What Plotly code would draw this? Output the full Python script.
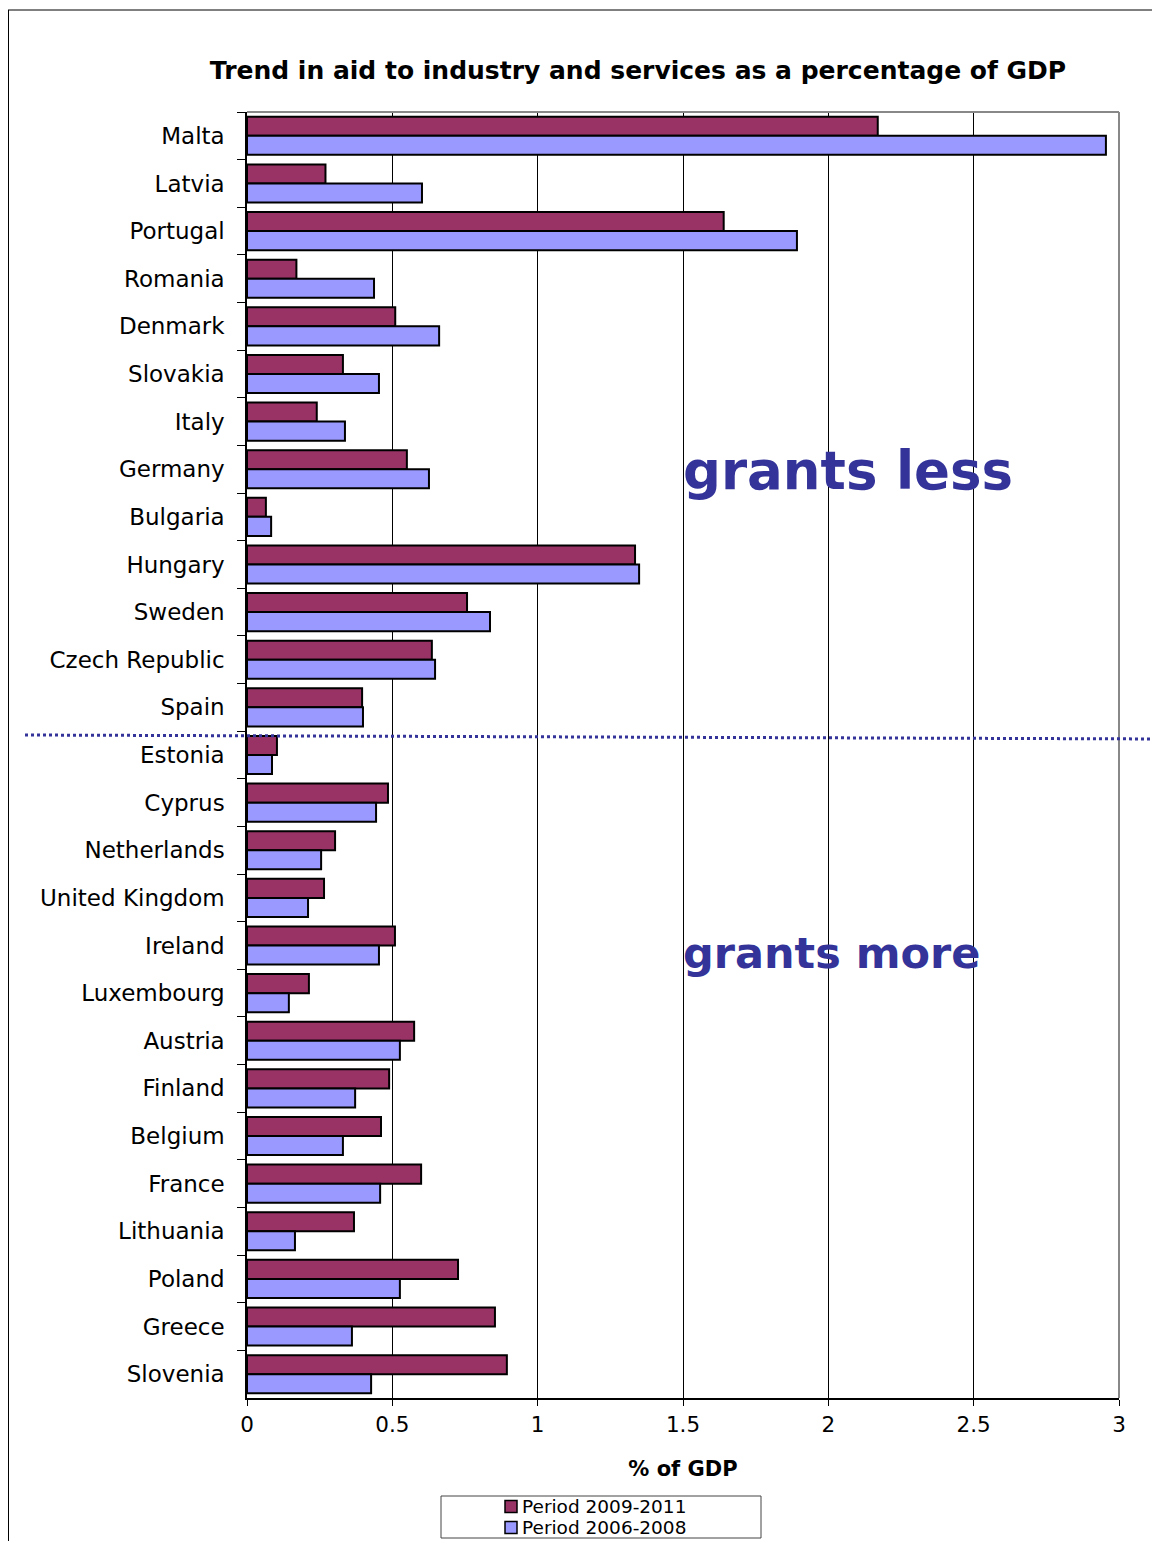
import plotly.graph_objects as go

countries = ["Malta", "Latvia", "Portugal", "Romania", "Denmark", "Slovakia", "Italy",
             "Germany", "Bulgaria", "Hungary", "Sweden", "Czech Republic", "Spain",
             "Estonia", "Cyprus", "Netherlands", "United Kingdom", "Ireland", "Luxembourg",
             "Austria", "Finland", "Belgium", "France", "Lithuania", "Poland", "Greece", "Slovenia"]
period_2009_2011 = [2.17, 0.27, 1.64, 0.17, 0.51, 0.33, 0.24, 0.55, 0.065, 1.335, 0.757, 0.636, 0.396,
                    0.103, 0.485, 0.303, 0.265, 0.509, 0.213, 0.575, 0.489, 0.461, 0.599, 0.368,
                    0.726, 0.853, 0.894]
period_2006_2008 = [2.955, 0.602, 1.892, 0.437, 0.661, 0.454, 0.337, 0.626, 0.083, 1.349, 0.836, 0.647, 0.399,
                    0.086, 0.444, 0.255, 0.21, 0.454, 0.144, 0.526, 0.372, 0.33, 0.458, 0.165,
                    0.526, 0.361, 0.427]
series_names = ["Period 2009-2011", "Period 2006-2008"]
series_colors = ["#993366", "#9999FF"]
x_ticks = [0, 0.5, 1, 1.5, 2, 2.5, 3]
x_tick_labels = ["0", "0.5", "1", "1.5", "2", "2.5", "3"]

FONT = "DejaVu Sans, Liberation Sans, Arial, sans-serif"

fig = go.Figure()
for name, vals, col in zip(series_names, [period_2009_2011, period_2006_2008], series_colors):
    fig.add_trace(go.Bar(y=countries, x=vals, orientation="h", name=name, showlegend=False,
                         marker=dict(color=col, line=dict(color="black", width=2))))

OFF = 8  # page body margin
W, H = 1160 - OFF, 1541 - OFF
L, R, T, B = 247 - OFF, 41, 112 - OFF, 143
pw, ph = W - L - R, H - T - B


def px(p):
    """reference screenshot x pixel -> paper x"""
    return (p - OFF - L) / pw


def py(p):
    """reference screenshot y pixel -> paper y"""
    return (H - B - (p - OFF)) / ph


fig.update_layout(
    width=W, height=H,
    margin=dict(l=L, r=R, t=T, b=B, pad=0),
    paper_bgcolor="white", plot_bgcolor="white",
    barmode="group", bargap=0.2, bargroupgap=0,
    font=dict(family=FONT, color="black"),
    title=dict(text="<b>Trend in aid to industry and services as a percentage of GDP</b>",
               x=px(638), xref="paper", xanchor="center", y=1 - (70 - OFF) / H, yref="container",
               yanchor="middle", font=dict(size=25, family=FONT, color="black")),
    xaxis=dict(range=[0, 3], tickvals=x_ticks, ticktext=x_tick_labels,
               showgrid=True, gridcolor="black", gridwidth=1,
               showline=True, linecolor="black", linewidth=1.5,
               ticks="outside", ticklen=6, tickcolor="black",
               tickfont=dict(size=21.5, family=FONT), zeroline=False,
               title=dict(text="<b>% of GDP</b>", font=dict(size=21, family=FONT), standoff=26)),
    yaxis=dict(autorange="reversed", showline=True, linecolor="black", linewidth=1.5,
               ticks="outside", ticklen=8, tickcolor="black", tickson="boundaries",
               tickfont=dict(size=23, family=FONT), showgrid=False, ticklabelstandoff=16),
    showlegend=False,
)

shapes = [
    # plot-area frame (grey top and right)
    dict(type="line", xref="paper", yref="paper", x0=0, x1=1, y0=1, y1=1,
         line=dict(color="#888888", width=2)),
    dict(type="line", xref="paper", yref="paper", x0=1, x1=1, y0=0, y1=1,
         line=dict(color="#888888", width=2)),
    # outer page frame
    dict(type="line", xref="paper", yref="paper", x0=px(8.5), x1=px(8.5), y0=py(1545), y1=py(10),
         line=dict(color="black", width=1)),
    dict(type="line", xref="paper", yref="paper", x0=px(8), x1=px(1165), y0=py(10), y1=py(10),
         line=dict(color="black", width=1)),
    # dotted separator
    dict(type="line", xref="paper", yref="paper", x0=px(25), x1=px(1165), y0=py(735), y1=py(739),
         line=dict(color="#333399", width=3, dash="dot")),
    # legend box
    dict(type="rect", xref="paper", yref="paper", x0=px(441), x1=px(761), y0=py(1538), y1=py(1496),
         line=dict(color="#444444", width=1), fillcolor="white"),
]
# legend swatches
for i, col in enumerate(series_colors):
    yc = 1506.5 + 21 * i
    shapes.append(dict(type="rect", xref="paper", yref="paper", x0=px(505), x1=px(517),
                       y0=py(yc + 6), y1=py(yc - 6), line=dict(color="black", width=1.5),
                       fillcolor=col))
    fig.add_annotation(text=series_names[i], xref="paper", yref="paper", x=px(520), y=py(yc),
                       xanchor="left", yanchor="middle", showarrow=False,
                       font=dict(size=18.5, family=FONT, color="black"))
fig.update_layout(shapes=shapes)

fig.add_annotation(text="<b>grants less</b>", xref="paper", yref="paper", x=px(681), y=py(471),
                   xanchor="left", yanchor="middle", showarrow=False,
                   font=dict(size=53, family=FONT, color="#333399"))
fig.add_annotation(text="<b>grants more</b>", xref="paper", yref="paper", x=px(681), y=py(953),
                   xanchor="left", yanchor="middle", showarrow=False,
                   font=dict(size=43, family=FONT, color="#333399"))

fig.write_html("out.html")
